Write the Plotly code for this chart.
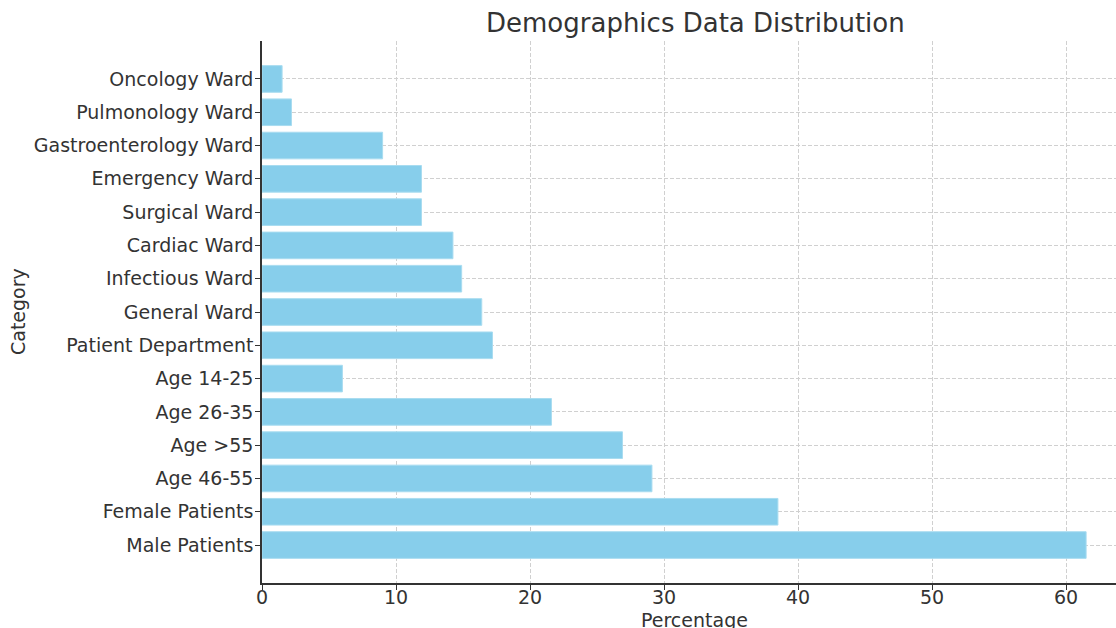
import plotly.graph_objects as go

categories = ["Male Patients", "Female Patients", "Age 46-55", "Age >55", "Age 26-35",
              "Age 14-25", "Patient Department", "General Ward", "Infectious Ward",
              "Cardiac Ward", "Surgical Ward", "Emergency Ward", "Gastroenterology Ward",
              "Pulmonology Ward", "Oncology Ward"]
percentages = [61.5, 38.5, 29.1, 26.9, 21.6, 6.0, 17.2, 16.4, 14.9, 14.25, 11.9, 11.9, 9.0, 2.2, 1.5]
x_ticks = [0, 10, 20, 30, 40, 50, 60]

positions = list(range(len(categories)))
font = "DejaVu Sans, Verdana, sans-serif"
txt = "#333333"
fs = 19

fig = go.Figure(go.Bar(
    x=percentages, y=positions, orientation="h", width=0.8,
    marker=dict(color="#87CEEB", line=dict(color="#a8dcf0", width=1)),
))

fig.update_layout(
    width=1116, height=628,
    margin=dict(l=262, r=0, t=41, b=45),
    paper_bgcolor="white", plot_bgcolor="white",
    font=dict(family=font, color=txt, size=fs),
    showlegend=False,
    annotations=[
        dict(text="Demographics Data Distribution", xref="paper", yref="paper",
             x=(695 - 262) / 854, y=(628 - 23 - 45) / 542, xanchor="center", yanchor="middle",
             showarrow=False, font=dict(size=26, color=txt, family=font)),
        dict(text="Percentage", xref="paper", yref="paper",
             x=(694 - 262) / 854, y=-(620 - 583) / 542, xanchor="center", yanchor="middle",
             showarrow=False, font=dict(size=fs, color=txt, family=font)),
        dict(text="Category", xref="paper", yref="paper", textangle=-90,
             x=-(262 - 18) / 854, y=0.5, xanchor="center", yanchor="middle",
             showarrow=False, font=dict(size=fs, color=txt, family=font)),
    ],
)

fig.update_xaxes(
    range=[0, 63.73], tickvals=x_ticks, ticks="outside", ticklen=5, tickcolor="#333333",
    showline=True, linecolor="#333333", linewidth=1.5, mirror=False,
    showgrid=True, gridcolor="#d0d0d0", griddash="4px,2px", gridwidth=1,
    zeroline=False, tickfont=dict(size=fs, color=txt), ticklabelstandoff=-9,
)
fig.update_yaxes(
    range=[-1.14, 15.14], tickvals=positions, ticktext=categories,
    ticks="outside", ticklen=5, tickcolor="#333333",
    showline=True, linecolor="#333333", linewidth=1.5,
    showgrid=True, gridcolor="#d0d0d0", griddash="4px,2px", gridwidth=1,
    zeroline=False, tickfont=dict(size=fs, color=txt), ticklabelstandoff=-2,
)

fig.write_html("out.html", config={"displayModeBar": False},
               post_script="document.body.style.margin='0';")
